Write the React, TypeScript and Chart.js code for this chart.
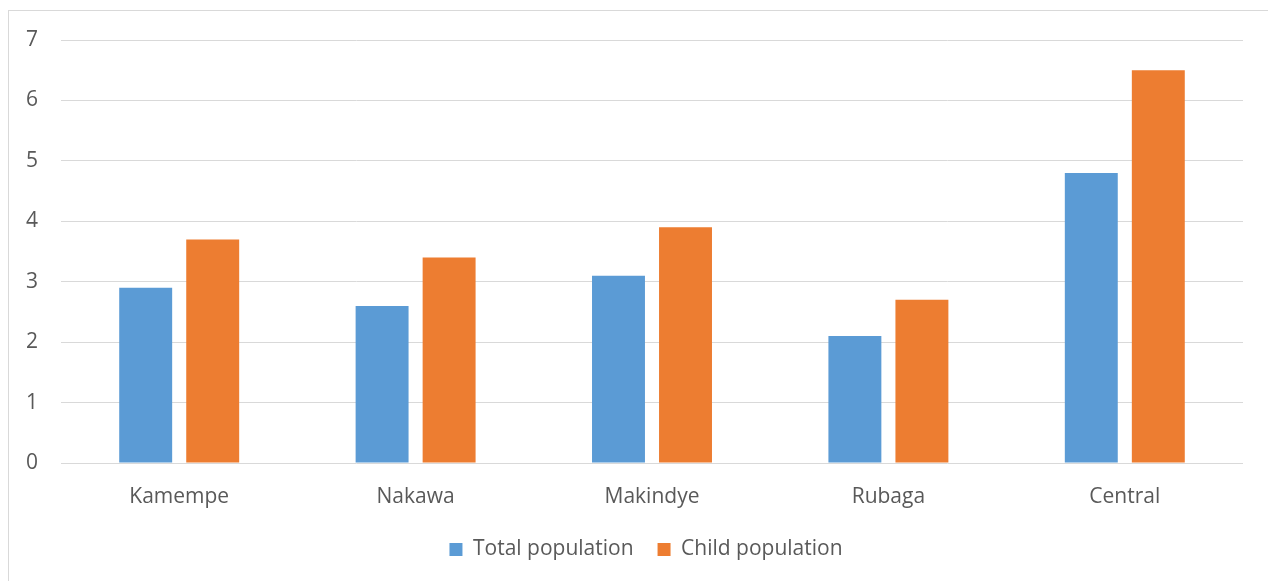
import React, { useEffect, useRef } from "react";
import { Chart, registerables } from "chart.js";

Chart.register(...registerables);

const categories = ["Kamempe", "Nakawa", "Makindye", "Rubaga", "Central"];
const totalPopulation = [2.9, 2.6, 3.1, 2.1, 4.8];
const childPopulation = [3.7, 3.4, 3.9, 2.7, 6.5];
const seriesNames = ["Total population", "Child population"];

const FONT = "'Open Sans', sans-serif";
const TEXT = "#595959";
const GRID = "#D9D9D9";

const shiftLegend = {
  id: "shiftLegend",
  afterLayout(chart: any) {
    if (chart.legend) {
      chart.legend.left += 20;
      chart.legend.right += 20;
    }
  },
};

export default function App() {
  const ref = useRef<HTMLCanvasElement | null>(null);

  useEffect(() => {
    if (!ref.current) return;
    const chart = new Chart(ref.current, {
      type: "bar",
      data: {
        labels: categories,
        datasets: [
          {
            label: seriesNames[0],
            data: totalPopulation,
            backgroundColor: "#5B9BD5",
            categoryPercentage: 0.567,
            barPercentage: 0.79,
          },
          {
            label: seriesNames[1],
            data: childPopulation,
            backgroundColor: "#ED7D31",
            categoryPercentage: 0.567,
            barPercentage: 0.79,
          },
        ],
      },
      options: {
        animation: false,
        responsive: false,
        maintainAspectRatio: false,
        layout: { padding: { top: 29, left: 0, right: 25, bottom: 11 } },
        plugins: {
          title: { display: false },
          tooltip: { enabled: false },
          legend: {
            position: "bottom",
            labels: {
              font: { family: FONT, size: 21 },
              color: TEXT,
              boxWidth: 13,
              boxHeight: 13,
              padding: 24,
            },
          },
        },
        scales: {
          x: {
            grid: { display: false },
            border: { display: false },
            ticks: {
              font: { family: FONT, size: 21 },
              color: TEXT,
              padding: 13,
            },
            afterFit: (s: any) => {
              s.height = 52;
            },
          },
          y: {
            min: 0,
            max: 7,
            grid: { color: GRID, lineWidth: 1, drawTicks: false },
            border: { display: false },
            ticks: {
              stepSize: 1,
              font: { family: FONT, size: 21 },
              color: TEXT,
              padding: 23,
            },
            afterFit: (s: any) => {
              s.width = 52;
              s.paddingTop = 0;
            },
          },
        },
      },
      plugins: [shiftLegend],
    });
    return () => chart.destroy();
  }, []);

  return (
    <div
      style={{
        position: "fixed",
        left: 8,
        top: 10,
        width: 1260,
        height: 571,
        borderTop: "1px solid #D9D9D9",
        borderLeft: "1px solid #D9D9D9",
        boxSizing: "border-box",
        background: "#fff",
      }}
    >
      <canvas ref={ref} width={1259} height={570} style={{ display: "block" }} />
    </div>
  );
}
